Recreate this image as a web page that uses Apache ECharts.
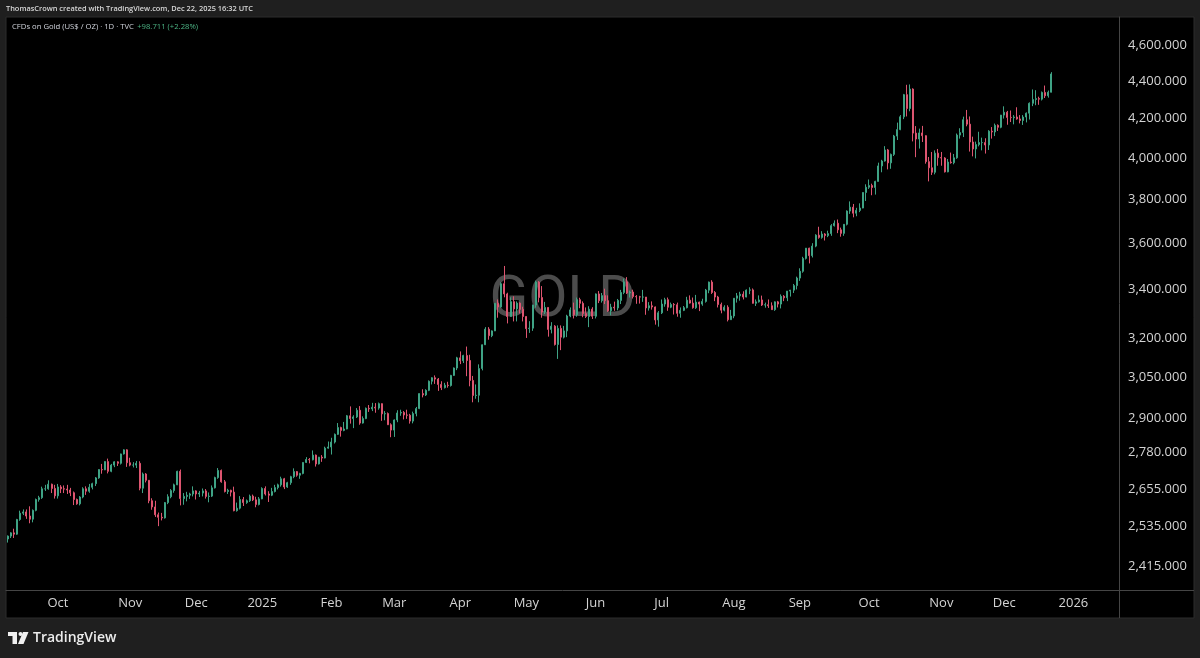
<!DOCTYPE html>
<html>
<head>
<meta charset="utf-8">
<script src="https://cdn.jsdelivr.net/npm/echarts@6/dist/echarts.min.js"></script>
<style>
html,body{margin:0;padding:0;background:#1f1f1f;}
#chart{width:1200px;height:658px;}
</style>
</head>
<body>
<div id="chart"></div>
<script>
// ---- calendar (trading days, weekends + listed holidays skipped) ----
const firstDay = '2024-09-09';
const holidays = ['2024-12-25', '2025-01-01', '2025-04-18', '2025-12-25', '2026-01-01'];
const totalSlots = 354;              // data days + empty right margin
const monthAbbr = ['Jan','Feb','Mar','Apr','May','Jun','Jul','Aug','Sep','Oct','Nov','Dec'];

// ---- daily OHLC, Sep 9 2024 .. Dec 22 2025 (one row per month) ----
const opens = [
 2497,2506,2516,2512,2558,2578,2582,2569,2559,2587,2622,2628,2657,2657,2672,2658,
 2634,2663,2657,2656,2653,2644,2622,2608,2630,2657,2649,2662,2674,2693,2721,2720,2748,2715,2736,2747,2742,2774,2788,
 2744,2736,2736,2742,2659,2706,2685,2618,2598,2573,2565,2563,2612,2631,2651,2670,2715,2625,2632,2636,2640,
 2650,2640,2643,2650,2632,2633,2660,2694,2718,2680,2648,2652,2646,2586,2594,2622,2612,2618,2633,2621,2606,
 2624,2658,2640,2636,2648,2661,2670,2690,2663,2677,2697,2714,2702,2708,2745,2755,2754,2770,2740,2763,2760,2794,
 2798,2815,2842,2866,2856,2861,2908,2898,2904,2928,2882,2898,2935,2933,2939,2936,2952,2915,2916,2876,
 2857,2893,2918,2920,2911,2910,2889,2916,2934,2989,2984,3001,3035,3048,3043,3023,3011,3020,3019,3057,3085,
 3124,3113,3133,3114,3038,2982,2983,3083,3175,3237,3211,3230,3342,3327,3424,3381,3288,3349,3319,3343,3317,
 3288,3239,3241,3335,3431,3366,3306,3325,3236,3249,3176,3240,3205,3230,3290,3315,3295,3357,3342,3300,3288,3318,
 3289,3381,3353,3374,3353,3311,3326,3323,3354,3387,3432,3385,3389,3370,3369,3368,3368,3323,3332,3327,3274,
 3303,3339,3357,3326,3337,3336,3301,3313,3324,3355,3343,3324,3347,3339,3350,3397,3431,3387,3368,3337,3314,3326,3275,
 3290,3363,3373,3380,3368,3397,3398,3342,3348,3356,3335,3336,3332,3316,3348,3339,3371,3365,3393,3397,3416,
 3448,3477,3533,3578,3545,3587,3636,3626,3641,3634,3643,3679,3690,3660,3644,3685,3746,3764,3736,3749,3760,3833,
 3858,3866,3857,3886,3961,3985,4040,3976,4018,4110,4143,4209,4326,4252,4356,4125,4095,4126,4112,3982,3952,3930,4024,
 4002,4000,3932,3980,3977,4001,4115,4128,4194,4171,4080,4045,4067,4077,4077,4065,4135,4131,4165,4155,
 4218,4233,4206,4205,4208,4198,4190,4208,4228,4280,4300,4305,4302,4338,4320,4339
];
const highs = [
 2508,2518,2529,2560,2586,2590,2590,2600,2590,2625,2634,2664,2670,2685,2674,2670,
 2673,2669,2668,2670,2660,2648,2625,2633,2662,2665,2673,2677,2696,2722,2740,2749,2758,2740,2749,2749,2775,2790,2790,
 2761,2746,2750,2749,2711,2709,2685,2626,2618,2580,2579,2614,2639,2656,2674,2717,2721,2643,2647,2644,2665,
 2652,2650,2658,2656,2645,2668,2697,2726,2721,2686,2657,2654,2664,2612,2633,2630,2622,2638,2638,2631,2630,
 2662,2665,2649,2660,2670,2674,2697,2693,2680,2700,2725,2716,2710,2746,2763,2760,2786,2772,2764,2770,2799,2817,
 2830,2845,2882,2869,2886,2911,2942,2910,2936,2943,2906,2938,2947,2955,2954,2956,2953,2925,2920,2881,
 2895,2928,2930,2925,2930,2915,2923,2940,2990,3005,3005,3038,3050,3057,3047,3035,3029,3033,3059,3087,3128,
 3149,3136,3168,3136,3055,3023,3099,3176,3245,3245,3232,3343,3358,3430,3500,3386,3367,3371,3350,3346,3328,
 3289,3269,3336,3437,3435,3414,3348,3326,3265,3253,3252,3252,3250,3295,3325,3345,3366,3365,3350,3325,3330,3326,
 3383,3393,3385,3403,3375,3340,3349,3360,3398,3446,3452,3395,3399,3376,3373,3398,3368,3347,3350,3329,3310,
 3358,3365,3366,3345,3343,3345,3325,3331,3369,3375,3366,3377,3349,3361,3402,3433,3439,3393,3373,3345,3334,3334,3315,
 3363,3385,3390,3392,3400,3409,3404,3358,3375,3374,3345,3358,3346,3350,3352,3379,3376,3393,3398,3423,3454,
 3490,3540,3578,3580,3600,3640,3674,3654,3645,3656,3686,3703,3707,3670,3686,3749,3791,3779,3761,3782,3834,3872,
 3895,3875,3889,3977,3991,4059,4045,4022,4116,4179,4218,4330,4379,4381,4360,4161,4148,4162,4114,4005,4030,4038,4045,
 4030,4004,3995,4027,4020,4123,4150,4210,4245,4211,4107,4082,4132,4102,4099,4140,4156,4174,4170,4219,
 4264,4240,4242,4218,4259,4218,4218,4232,4285,4354,4350,4315,4343,4375,4348,4448
];
const lows = [
 2486,2500,2500,2510,2554,2572,2560,2546,2549,2584,2615,2624,2650,2654,2643,2625,
 2625,2643,2643,2640,2633,2604,2605,2603,2626,2637,2644,2655,2666,2690,2707,2719,2708,2712,2729,2733,2738,2772,2730,
 2732,2728,2726,2652,2643,2678,2610,2589,2566,2537,2555,2561,2607,2626,2644,2669,2603,2605,2616,2624,2632,
 2622,2630,2632,2625,2613,2630,2658,2690,2677,2645,2640,2632,2584,2583,2590,2601,2608,2614,2617,2597,2603,
 2623,2635,2614,2633,2645,2655,2664,2656,2660,2670,2692,2697,2690,2705,2743,2742,2752,2731,2738,2747,2759,2792,
 2772,2810,2840,2834,2853,2860,2880,2864,2900,2876,2880,2896,2922,2925,2919,2930,2890,2892,2876,2832,
 2833,2885,2908,2895,2897,2880,2881,2906,2932,2975,2980,2998,3023,3025,2999,3002,3008,3011,3015,3055,3077,
 3100,3104,3054,3016,2957,2970,2957,3076,3174,3195,3205,3229,3283,3324,3367,3260,3287,3268,3268,3300,3268,
 3202,3222,3230,3324,3346,3283,3298,3207,3220,3172,3120,3154,3200,3205,3285,3280,3287,3322,3285,3282,3245,3278,
 3280,3343,3345,3339,3307,3293,3311,3313,3339,3380,3381,3366,3362,3340,3341,3348,3295,3312,3316,3255,3247,
 3298,3328,3311,3322,3296,3287,3283,3310,3321,3341,3320,3319,3310,3332,3345,3384,3381,3351,3325,3301,3309,3268,3274,
 3281,3345,3353,3358,3367,3380,3341,3331,3345,3331,3324,3323,3315,3311,3325,3321,3351,3351,3370,3385,3400,
 3436,3471,3528,3511,3537,3582,3620,3620,3612,3627,3633,3675,3645,3629,3633,3680,3733,3717,3722,3741,3759,3793,
 3850,3820,3823,3885,3930,3982,3944,3947,4010,4090,4140,4197,4211,4238,4083,4004,4047,4080,3972,3886,3917,3920,3962,
 3962,3929,3930,3972,3969,3996,4097,4105,4160,4032,4008,3998,4058,4038,4022,4040,4097,4110,4136,4150,
 4200,4168,4182,4170,4194,4175,4167,4180,4195,4265,4270,4272,4295,4308,4310,4338
];
const closes = [
 2506,2516,2512,2558,2578,2582,2569,2559,2587,2622,2628,2657,2657,2672,2658,2634,
 2663,2657,2656,2653,2644,2622,2608,2630,2657,2649,2662,2674,2693,2721,2720,2748,2715,2736,2747,2742,2774,2788,2744,
 2736,2736,2742,2659,2706,2685,2618,2598,2573,2565,2563,2612,2631,2651,2670,2715,2625,2632,2636,2640,2650,
 2640,2643,2650,2632,2633,2660,2694,2718,2680,2648,2652,2646,2586,2594,2622,2612,2618,2633,2621,2606,2624,
 2658,2640,2636,2648,2661,2670,2690,2663,2677,2697,2714,2702,2708,2745,2755,2754,2770,2740,2763,2760,2794,2798,
 2815,2842,2866,2856,2861,2908,2898,2904,2928,2882,2898,2935,2933,2939,2936,2952,2915,2916,2876,2857,
 2893,2918,2920,2911,2910,2889,2916,2934,2989,2984,3001,3035,3048,3043,3023,3011,3020,3019,3057,3085,3124,
 3113,3133,3114,3038,2982,2983,3083,3175,3237,3211,3230,3342,3327,3424,3381,3288,3349,3319,3343,3317,3288,
 3239,3241,3335,3431,3366,3306,3325,3236,3249,3176,3240,3205,3230,3290,3315,3295,3357,3342,3300,3288,3318,3289,
 3381,3353,3374,3353,3311,3326,3323,3354,3387,3432,3385,3389,3370,3369,3368,3368,3323,3332,3327,3274,3303,
 3339,3357,3326,3337,3336,3301,3313,3324,3355,3343,3324,3347,3339,3350,3397,3431,3387,3368,3337,3314,3326,3275,3290,
 3363,3373,3380,3368,3397,3398,3342,3348,3356,3335,3336,3332,3316,3348,3339,3371,3365,3393,3397,3416,3448,
 3477,3533,3578,3545,3587,3636,3626,3641,3634,3643,3679,3690,3660,3644,3685,3746,3764,3736,3749,3760,3833,3858,
 3866,3857,3886,3961,3985,4040,3976,4018,4110,4143,4209,4326,4252,4356,4125,4095,4126,4112,3982,3952,3930,4024,4002,
 4000,3932,3980,3977,4001,4115,4128,4194,4171,4080,4045,4067,4077,4077,4065,4135,4131,4165,4155,4218,
 4233,4206,4205,4208,4198,4190,4208,4228,4280,4300,4305,4302,4338,4320,4339,4438
];

// ---- price axis ticks (log scale) ----
const yTicks = [4600, 4400, 4200, 4000, 3800, 3600, 3400, 3200, 3050, 2900, 2780, 2655, 2535, 2415];

// ---- texts ----
const headerText = 'ThomasCrown created with TradingView.com, Dec 22, 2025 16:32 UTC';
const symbolText = 'CFDs on Gold (US$ / OZ) · 1D · TVC';
const changeText = '+98.711 (+2.28%)';
const watermarkText = 'GOLD';
const brandText = 'TradingView';

// ---------------- build ----------------
function pad(n){return n<10?'0'+n:''+n;}
const dates = [];
{
  const hol = new Set(holidays);
  const p = firstDay.split('-').map(Number);
  let d = new Date(Date.UTC(p[0], p[1]-1, p[2]));
  while (dates.length < totalSlots) {
    const wd = d.getUTCDay();
    const s = d.getUTCFullYear()+'-'+pad(d.getUTCMonth()+1)+'-'+pad(d.getUTCDate());
    if (wd !== 0 && wd !== 6 && !hol.has(s)) dates.push(s);
    d = new Date(d.getTime() + 86400000);
  }
}
const monthStart = dates.map((s,i) => i > 0 && s.slice(5,7) !== dates[i-1].slice(5,7));

const candles = opens.map((o,i) => [Math.log(o), Math.log(closes[i]), Math.log(lows[i]), Math.log(highs[i])]);

// layout
const W = 1200, H = 658;
const panel = {x: 6, y: 17, w: 1188, h: 601};
const plotRight = 1119, plotBottom = 590;
const K = (566 - 45) / Math.log(4600 / 2415);         // px per ln unit measured on reference
const yMax = Math.log(4600) + (45 - panel.y) / K;
const yMin = Math.log(4600) - (plotBottom - 45) / K;

const fontUI = '"Open Sans", "Noto Sans", sans-serif';
const lineCol = '#454545';
const upCol = '#3fa385', downCol = '#de5570';

function fmtPrice(v){
  const p = Math.round(Math.exp(v));
  return p.toLocaleString('en-US') + '.000';
}

const chart = echarts.init(document.getElementById('chart'), null, {renderer: 'canvas', width: W, height: H});
chart.setOption({
  animation: false,
  backgroundColor: '#1f1f1f',
  grid: {left: panel.x, right: W - plotRight, top: panel.y, bottom: H - plotBottom, containLabel: false},
  xAxis: {
    type: 'category',
    data: dates,
    boundaryGap: true,
    axisLine: {show: true, lineStyle: {color: lineCol, width: 1}},
    axisTick: {show: false},
    splitLine: {show: false},
    axisLabel: {
      interval: (i) => monthStart[i],
      formatter: (v) => { const m = +v.slice(5,7) - 1; return m === 0 ? v.slice(0,4) : monthAbbr[m]; },
      color: '#d4d4d4', fontSize: 13, fontFamily: fontUI, margin: 7
    }
  },
  yAxis: {
    type: 'value',
    position: 'right',
    min: yMin, max: yMax,
    scale: true,
    axisLine: {show: true, lineStyle: {color: lineCol, width: 1}},
    axisTick: {show: false},
    splitLine: {show: false},
    axisLabel: {
      customValues: yTicks.map(Math.log),
      formatter: fmtPrice,
      color: '#d4d4d4', fontSize: 13, fontFamily: fontUI, margin: 9
    }
  },
  series: [{
    type: 'candlestick',
    data: candles,
    barWidth: 1.5,
    z: 5,
    itemStyle: {color: upCol, color0: downCol, borderColor: upCol, borderColor0: downCol, borderWidth: 1}
  }],
  graphic: {elements: [
    {type: 'rect', z: -10, silent: true, shape: {x: panel.x, y: panel.y, width: panel.w, height: panel.h},
     style: {fill: '#000000', stroke: '#2c2c2c', lineWidth: 1}},
    {type: 'text', z: 1, silent: true, x: (panel.x + plotRight) / 2, y: 302,
     style: {text: watermarkText, font: '57px Roboto, sans-serif', fill: '#4c4c4c', align: 'center', verticalAlign: 'middle'}},
    {type: 'line', z: 10, silent: true, shape: {x1: plotRight + 0.5, y1: plotBottom, x2: plotRight + 0.5, y2: panel.y + panel.h}, style: {stroke: lineCol, lineWidth: 1}},
    {type: 'line', z: 10, silent: true, shape: {x1: plotRight, y1: plotBottom + 0.5, x2: panel.x + panel.w, y2: plotBottom + 0.5}, style: {stroke: lineCol, lineWidth: 1}},
    {type: 'text', z: 10, silent: true, x: 6, y: 9,
     style: {text: headerText, font: '600 7.4px ' + fontUI, fill: '#d8d8d8', verticalAlign: 'middle'}},
    {type: 'text', z: 10, silent: true, x: 12, y: 27,
     style: {text: '{a|' + symbolText + '} {b|' + changeText + '}', verticalAlign: 'middle',
       rich: {a: {font: '7.7px ' + fontUI, fill: '#d1d4dc'}, b: {font: '7.7px ' + fontUI, fill: '#4cb384'}}}},
    {type: 'rect', z: 10, silent: true, shape: {x: 8, y: 632, width: 9, height: 4}, style: {fill: '#f0f0f0'}},
    {type: 'rect', z: 10, silent: true, shape: {x: 12.5, y: 632, width: 4.5, height: 12}, style: {fill: '#f0f0f0'}},
    {type: 'circle', z: 10, silent: true, shape: {cx: 20.5, cy: 634, r: 2}, style: {fill: '#f0f0f0'}},
    {type: 'polygon', z: 10, silent: true, shape: {points: [[23,632],[28.5,632],[23.5,644],[18,644]]}, style: {fill: '#f0f0f0'}},
    {type: 'text', z: 10, silent: true, x: 33, y: 638,
     style: {text: brandText, font: '600 14px ' + fontUI, fill: '#ececec', verticalAlign: 'middle'}}
  ]}
});
</script>
</body>
</html>
